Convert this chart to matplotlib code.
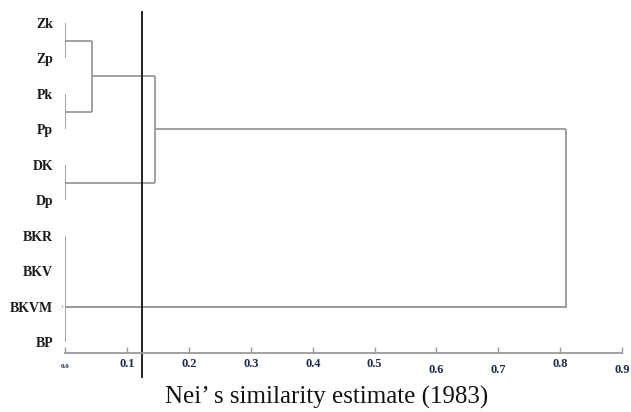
import matplotlib
matplotlib.use("Agg")
import matplotlib.pyplot as plt
import numpy as np

# leaves from top to bottom
leaves = ["Zk", "Zp", "Pk", "Pp", "DK", "Dp", "BKR", "BKV", "BKVM", "BP"]

# clusters: name -> (children, joining distance, optional anchor leaf)
clusters = {
    "Z": (["Zk", "Zp"], 0.0, None),
    "P": (["Pk", "Pp"], 0.0, None),
    "D": (["DK", "Dp"], 0.0, None),
    "B": (["BKR", "BKV", "BKVM", "BP"], 0.0, "BKVM"),
    "ZP": (["Z", "P"], 0.043, None),
    "ZPD": (["ZP", "D"], 0.145, None),
    "root": (["ZPD", "B"], 0.81, None),
}
cut_value = 0.123

xticks = [0.0, 0.1, 0.2, 0.3, 0.4, 0.5, 0.6, 0.7, 0.8, 0.9]
xtick_labels = ["0.0", "0.1", "0.2", "0.3", "0.4", "0.5", "0.6", "0.7", "0.8", "0.9"]
xlabel = "Nei\u2019 s similarity estimate (1983)"

line_col = "#9a9a9a"
serif = ["Liberation Serif", "DejaVu Serif"]

fig = plt.figure(figsize=(6.31, 4.12), dpi=100)
ax = fig.add_axes([0.1038, 0.1432, 0.8819, 0.8447])

leaf_pos = {name: i for i, name in enumerate(leaves)}
pos = dict(leaf_pos)
height = {name: 0.0 for name in leaves}


def place(name):
    if name in pos:
        return pos[name]
    children, h, anchor = clusters[name]
    ys = [place(c) for c in children]
    for c, y in zip(children, ys):
        # horizontal from child's height to this join
        if height[c] < h:
            ax.plot([height[c], h], [y, y], color=line_col, lw=1.3,
                    solid_capstyle="butt")
    ax.plot([h, h], [min(ys), max(ys)], color=line_col, lw=1.3,
            solid_capstyle="butt")
    pos[name] = leaf_pos[anchor] if anchor else np.mean(ys)
    height[name] = h
    return pos[name]


place("root")

# bk group line runs across at its anchor from distance 0
ax.plot([0, clusters["root"][1]], [pos["B"], pos["B"]], color=line_col, lw=1.3)

# cut-off line, runs below the axis
ax.plot([cut_value, cut_value], [-0.31, 9.97], color="#222222", lw=1.4,
        clip_on=False)

ax.set_xlim(0, 0.9)
ax.set_ylim(9.296, -0.507)

for s in ["left", "top", "right"]:
    ax.spines[s].set_visible(False)
ax.spines["bottom"].set_color(line_col)
ax.spines["bottom"].set_linewidth(1.3)

ax.set_xticks(xticks)
ax.set_xticklabels(xtick_labels, family=serif, fontweight="bold",
                   fontsize=9, color="#1e2a4e")
ax.tick_params(axis="x", direction="in", length=4, color=line_col, width=1)
pads = [8, 3.5, 3.5, 3.5, 3.5, 3.5, 8, 8, 3.5, 8]
for tick, p in zip(ax.xaxis.get_major_ticks(), pads):
    tick.set_pad(p)
ax.get_xticklabels()[0].set_fontsize(5)

ax.set_yticks(range(len(leaves)))
ax.set_yticklabels(leaves, family=serif, fontweight="bold", fontsize=10,
                   color="#1a1a1a")
ax.tick_params(axis="y", length=0, pad=9)

# tiny mark next to the BK line
ax.text(-0.004, pos["B"], "1", fontsize=3.5, family=serif, ha="right",
        va="center", color="#555555")

fig.text(326.5 / 631, 1 - 397 / 412, xlabel, family=serif, fontsize=18,
         ha="center", va="center", color="#111111")

fig.savefig("out.png", dpi=100)
